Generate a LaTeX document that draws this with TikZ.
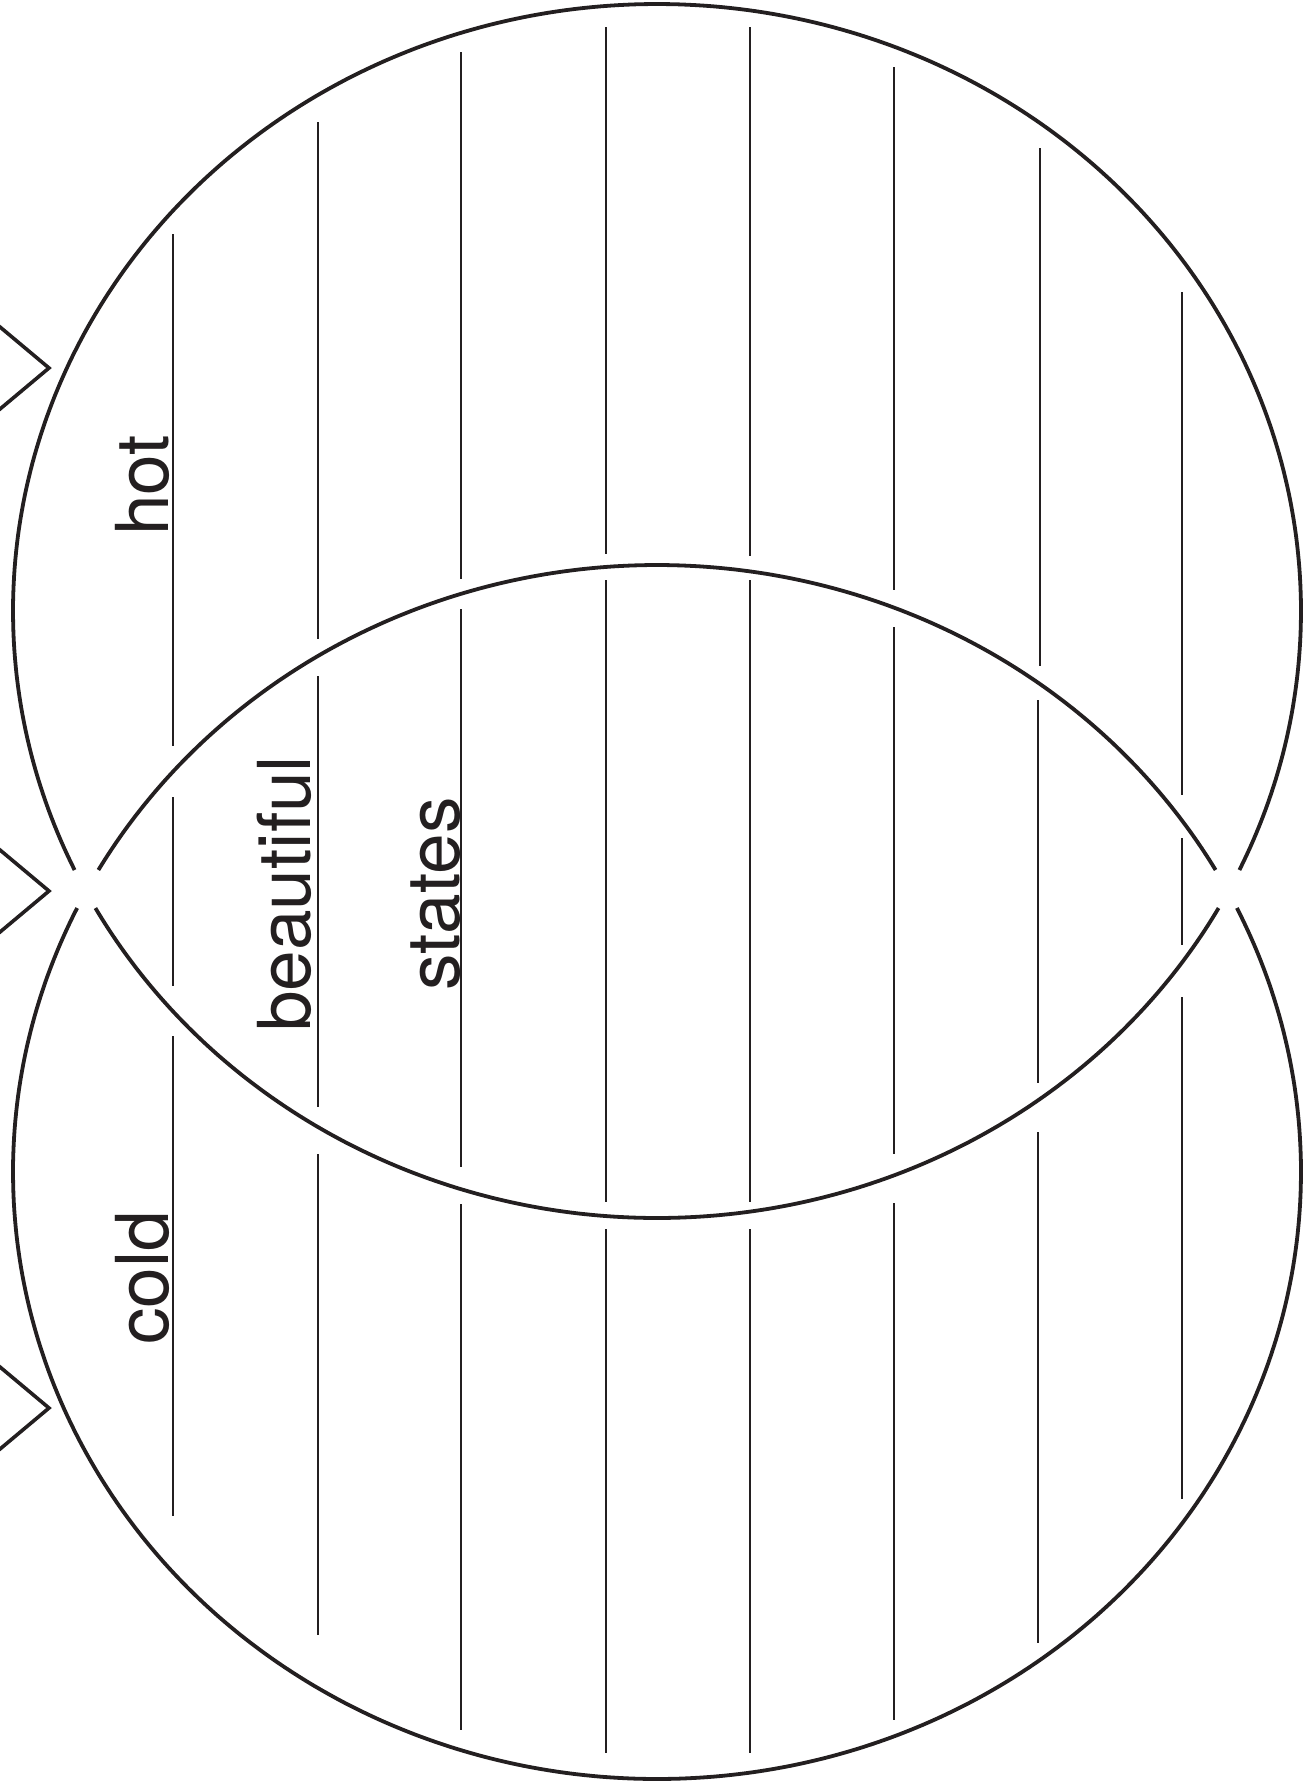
\documentclass[tikz,border=0pt]{standalone}
\usepackage{fontspec}
\setmainfont{TeX Gyre Heros}
\definecolor{ink}{HTML}{231F20}
\begin{document}
\begin{tikzpicture}[x=1pt,y=-1pt,
  outline/.style={draw=ink, line width=3.8pt},
  rule/.style={draw=ink, line width=1.8pt},
  chev/.style={draw=ink, line width=3.6pt, line join=miter},
  lbl/.style={rotate=90, anchor=base west, inner sep=0pt, text=ink,
              font=\fontsize{73}{80}\selectfont}]
\useasboundingbox (0,0) rectangle (1314,1786);
% top ellipse: outer arc and lower (lens) arc
\draw[outline] plot[domain=154.74:385.26, samples=300] ({657+644*cos(\x)},{611+607*sin(\x)});
\draw[outline] plot[domain=29.3:150.7, samples=200] ({657+644*cos(\x)},{611+607*sin(\x)});
% bottom ellipse: upper (lens) arc and outer arc
\draw[outline] plot[domain=209.84:330.16, samples=200] ({657+644*cos(\x)},{1172+607*sin(\x)});
\draw[outline] plot[domain=-25.78:205.78, samples=300] ({657+644*cos(\x)},{1172+607*sin(\x)});
% chevrons
\draw[chev] (-10,318.6) -- (49,368) -- (-10,417.4);
\draw[chev] (-10,841.6) -- (49,891) -- (-10,940.4);
\draw[chev] (-10,1358.6) -- (49,1408) -- (-10,1457.4);
% writing lines
\foreach \cx/\ya/\yb in {
  173/234/746, 173/797/986, 173/1036/1516,
  318/122/639, 318/676/1107, 318/1154/1635,
  461/52/579, 461/609/1167, 461/1204/1730,
  606/27/554, 606/580/1202, 606/1229/1753,
  750/27/556, 750/580/1202, 750/1229/1753,
  894/67/590, 894/627/1154, 894/1203/1720,
  1040/148/666, 1038/700/1083, 1038/1132/1643,
  1182/292/795, 1182/838/945, 1182/997/1499}
  \draw[rule] (\cx,\ya) -- (\cx,\yb);
% labels
\node[lbl] (hot) at (168,536) {hot};
\node[lbl] (cold) at (168,1345) {cold};
\node[lbl] (beautiful) at (310,1032) {beautiful};
\node[lbl] (states) at (459,991) {states};
\end{tikzpicture}
\end{document}
